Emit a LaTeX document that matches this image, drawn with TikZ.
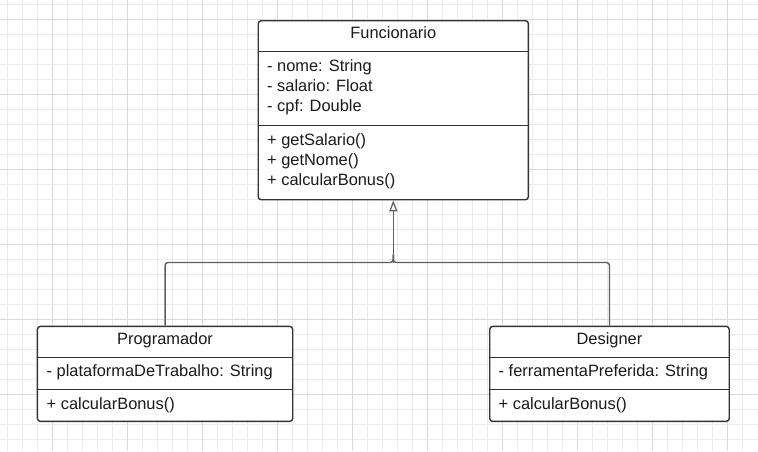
\documentclass[tikz,border=0pt]{standalone}
\usepackage{fontspec}
\setmainfont{Liberation Sans}
\usetikzlibrary{arrows.meta}
\definecolor{gridminor}{HTML}{EBEBEB}
\definecolor{gridmajor}{HTML}{DADADA}
\definecolor{boxline}{HTML}{333333}
\definecolor{connline}{HTML}{5E5E5E}
\definecolor{txt}{HTML}{1A1A1A}
\tikzset{
  umlbox/.style={draw=boxline, line width=1.4pt, fill=white, rounded corners=3pt, inner sep=0pt},
  divline/.style={draw=boxline, line width=1.4pt},
  lbl/.style={inner sep=0pt, text=txt, font=\fontsize{16.4}{20}\selectfont},
  conn/.style={draw=connline, line width=1.4pt, rounded corners=3pt},
  gen/.style={-{Triangle[open, length=11pt, width=8pt, line width=1.2pt]}},
}
\begin{document}
\begin{tikzpicture}[x=1pt,y=-1pt]
\useasboundingbox (0,0) rectangle (758,451);
\fill[white] (0,0) rectangle (758,451);
% grid
\foreach \gx in {7.3,22.3,...,757} \draw[gridminor, line width=1pt] (\gx,0) -- (\gx,451);
\foreach \gy in {4.3,19.3,...,450} \draw[gridminor, line width=1pt] (0,\gy) -- (758,\gy);
\foreach \gx in {52.3,127.3,...,757} \draw[gridmajor, line width=1pt] (\gx,0) -- (\gx,451);
\foreach \gy in {19.3,94.3,...,450} \draw[gridmajor, line width=1pt] (0,\gy) -- (758,\gy);

% Funcionario
\node[umlbox, minimum width=270.2pt, minimum height=179pt, anchor=north west] (func) at (257.5,20) {};
\draw[divline] (func.west |- 0,51.7) -- (func.east |- 0,51.7);
\draw[divline] (func.west |- 0,125.7) -- (func.east |- 0,125.7);
\node[lbl, anchor=base] (ft) at (func.north |- 0,38.3) {Funcionario};
\node[lbl, anchor=base west] (fa1) at (267,71.7) {- nome: String};
\node[lbl, anchor=base west] (fa2) at (267,91.7) {- salario: Float};
\node[lbl, anchor=base west] (fa3) at (267,111.7) {- cpf: Double};
\node[lbl, anchor=base west] (fm1) at (267,145.3) {+ getSalario()};
\node[lbl, anchor=base west] (fm2) at (267,165.3) {+ getNome()};
\node[lbl, anchor=base west] (fm3) at (267,185.3) {+ calcularBonus()};

% Programador
\node[umlbox, minimum width=255.3pt, minimum height=95pt, anchor=north west] (prog) at (36.7,325.7) {};
\draw[divline] (prog.west |- 0,357.3) -- (prog.east |- 0,357.3);
\draw[divline] (prog.west |- 0,389.3) -- (prog.east |- 0,389.3);
\node[lbl, anchor=base] (pt) at (prog.north |- 0,344.3) {Programador};
\node[lbl, anchor=base west] (pa1) at (46.5,376.7) {- plataformaDeTrabalho: String};
\node[lbl, anchor=base west] (pm1) at (46.5,409.3) {+ calcularBonus()};

% Designer
\node[umlbox, minimum width=239.5pt, minimum height=95pt, anchor=north west] (des) at (489,325.7) {};
\draw[divline] (des.west |- 0,357.3) -- (des.east |- 0,357.3);
\draw[divline] (des.west |- 0,389.3) -- (des.east |- 0,389.3);
\node[lbl, anchor=base] (dt) at (des.north |- 0,344.3) {Designer};
\node[lbl, anchor=base west] (da1) at (498.5,376.7) {- ferramentaPreferida: String};
\node[lbl, anchor=base west] (dm1) at (498.5,409.3) {+ calcularBonus()};

% generalisation connectors
\coordinate (junc) at (func.south |- 0,262.5);
\draw[conn] (prog.north) |- (junc) -- ([yshift=8pt]junc);
\draw[conn] (des.north) |- (junc) -- ([yshift=8pt]junc);
\draw[conn, gen] (junc) -- (func.south);
\end{tikzpicture}
\end{document}
